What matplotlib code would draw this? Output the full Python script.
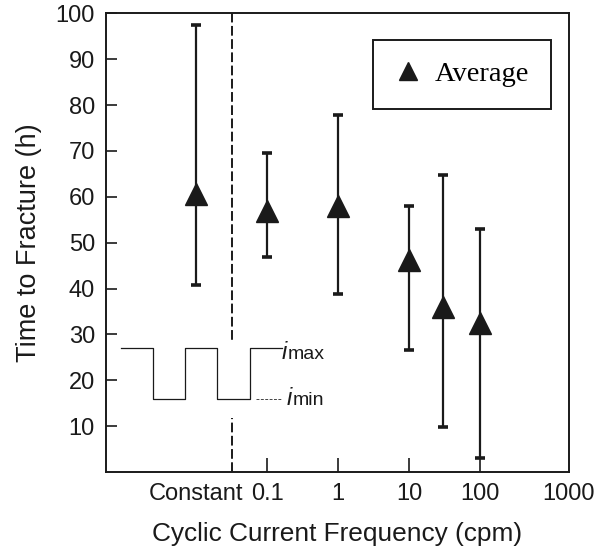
import numpy as np
import matplotlib.pyplot as plt

plt.rcParams['font.family'] = ['Liberation Sans', 'DejaVu Sans']

# ---- data ----
# "Constant" current is drawn at a nominal position left of 0.1 cpm
constant_pos = 0.01
freqs = [0.1, 1, 10, 30, 100]
avg_constant = 60.7
high_constant = 97.4
low_constant = 40.8
avg_cyclic = [56.9, 57.9, 46.2, 36.0, 32.5]
high_cyclic = [69.5, 77.9, 57.9, 64.8, 52.9]
low_cyclic = [46.9, 38.8, 26.5, 9.9, 3.1]

x_ticks = [0.1, 1, 10, 100]
x_ticklabels = ['0.1', '1', '10', '100']
y_ticks = [10, 20, 30, 40, 50, 60, 70, 80, 90, 100]

# schematic square wave: half-period edges and levels (1 = i_max, 0 = i_min)
wave_t = [0, 1, 2, 3, 4, 5]
wave_level = [1, 0, 1, 0, 1, 1]

ink = '#1a1a1a'

# ---- figure ----
fig = plt.figure(figsize=(6.03, 5.51), dpi=100)
ax = fig.add_axes([0.1758, 0.1434, 0.7678, 0.8325])

x_all = [constant_pos] + freqs
avg_all = np.array([avg_constant] + avg_cyclic)
high_all = np.array([high_constant] + high_cyclic)
low_all = np.array([low_constant] + low_cyclic)
yerr = [avg_all - low_all, high_all - avg_all]

ax.errorbar(x_all, avg_all, yerr=yerr, fmt='none', ecolor=ink,
            elinewidth=1.6, capsize=3.8, capthick=2.6, zorder=2)
ax.plot(x_all, avg_all, '^', color=ink, markersize=16.5, label='Average',
        zorder=3)

# dashed separator between constant and cyclic current
sep = np.sqrt(constant_pos * freqs[0])
ax.axvline(sep, color=ink, linewidth=1.4, linestyle=(0, (5, 1.8)), zorder=1)

ax.set_xscale('log')
ax.set_xlim(10 ** -3.27, 10 ** 3.25)
ax.set_ylim(0, 100)

ax.set_xticks(x_ticks, labels=x_ticklabels)
ax.set_xticks([constant_pos, 10 ** 3.25], labels=['Constant', '1000'], minor=True)
ax.set_yticks(y_ticks)

ax.tick_params(axis='x', which='major', direction='in', length=10, width=1.2,
               pad=8, labelsize=17, colors=ink)
ax.tick_params(axis='x', which='minor', direction='in', length=0,
               pad=8, labelsize=17, colors=ink)
ax.tick_params(axis='y', direction='in', length=8, width=1.2,
               pad=8, labelsize=17, colors=ink)

for s in ax.spines.values():
    s.set_linewidth(1.4)
    s.set_color(ink)

ax.set_xlabel('Cyclic Current Frequency (cpm)', fontsize=18.9, color=ink,
              labelpad=12)
ax.set_ylabel('Time to Fracture (h)', fontsize=19.5, color=ink, labelpad=10)

leg = ax.legend(loc='upper right', bbox_to_anchor=(0.961, 0.942),
                borderaxespad=0, numpoints=1, markerscale=0.78,
                fancybox=False, edgecolor=ink, framealpha=1,
                prop={'family': 'Liberation Serif', 'size': 20.5},
                borderpad=0.75, handletextpad=0.45, handlelength=1.0)
leg.get_frame().set_linewidth(1.4)

# ---- inset: square-wave schematic (white background hides the dashed line) ----
ins = fig.add_axes([0.1973, 0.2414, 0.358, 0.1379])
ins.set_facecolor('white')
for s in ins.spines.values():
    s.set_visible(False)
ins.set_xticks([])
ins.set_yticks([])
ins.set_xlim(-0.062, 6.65)
ins.set_ylim(-0.362, 1.11)
ins.step(wave_t, wave_level, where='post', color=ink, linewidth=0.9)
ins.plot([4.19, 4.97], [0, 0], color='#444444', linewidth=0.7,
         linestyle=(0, (3, 1.5)))

# "i" in italic, the subscript part upright and a bit smaller
for tx, ty, sub in [(4.98, 0.78, 'max'), (5.14, -0.11, 'min')]:
    ins.text(tx, ty, 'i', fontsize=17, style='italic', color=ink,
             ha='left', va='baseline')
    ins.annotate(sub, xy=(tx, ty), xytext=(4.6, 0), textcoords='offset points',
                 fontsize=14, color=ink, ha='left', va='baseline')

fig.savefig('out.png', dpi=100)
